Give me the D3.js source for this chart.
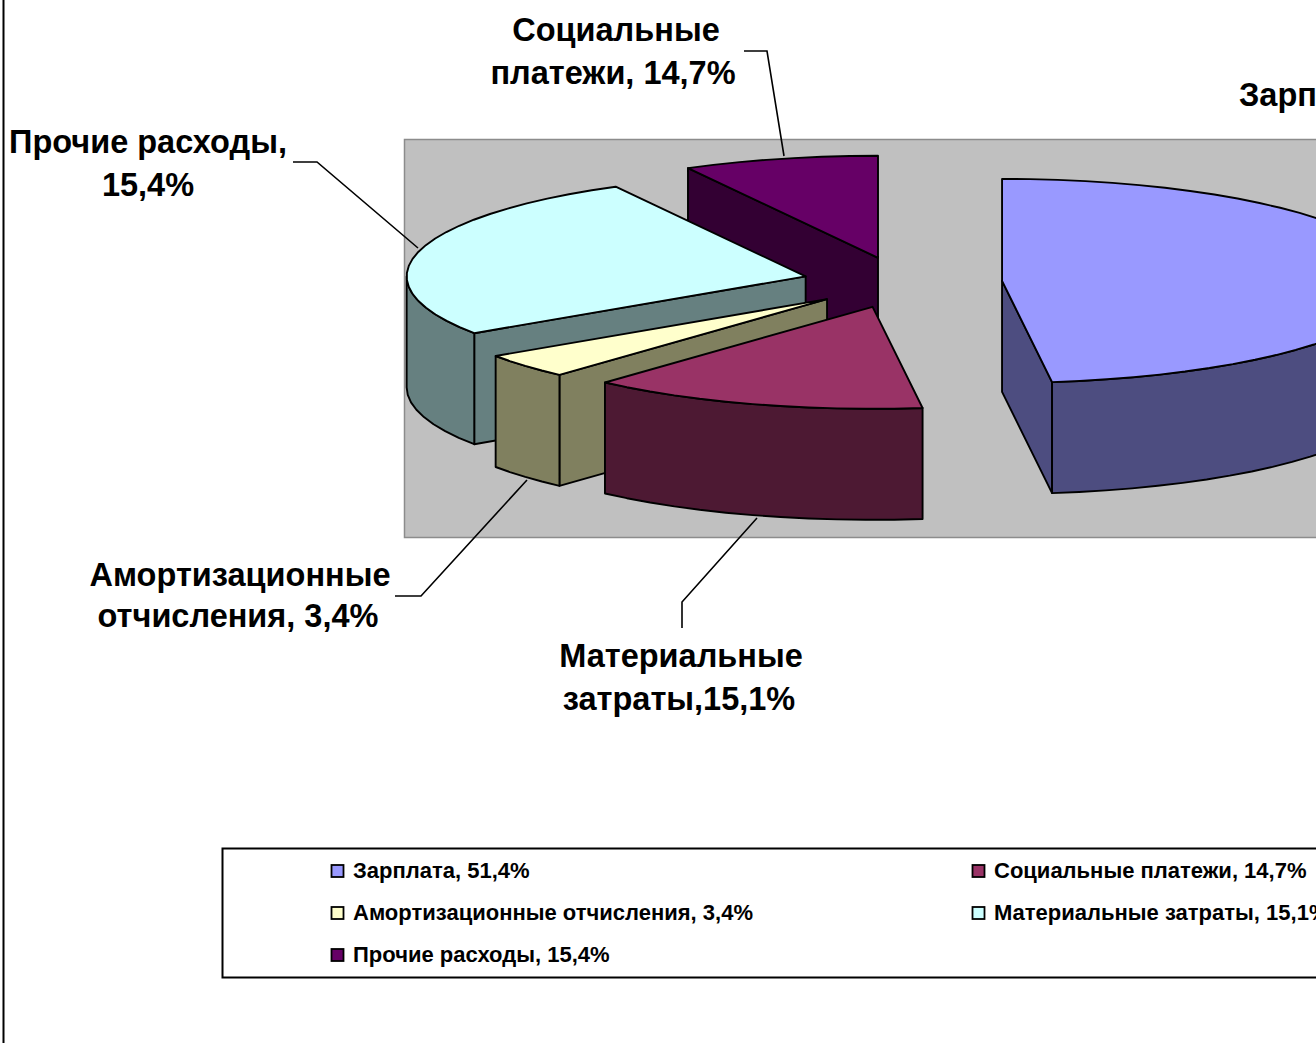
<!DOCTYPE html>
<html><head><meta charset="utf-8">
<script src="https://cdn.jsdelivr.net/npm/d3@7"></script>
<style>html,body{margin:0;padding:0;background:#fff;overflow:hidden}svg{display:block}text{font-family:"Liberation Sans",Arial,sans-serif;font-weight:bold;fill:#000}</style>
</head><body><svg id="c" width="1316" height="1043"></svg>
<script>
// Series in legend order
const categories = ["Зарплата","Социальные платежи","Амортизационные отчисления","Материальные затраты","Прочие расходы"];
const labelledPercent = ["51,4%","14,7%","3,4%","15,1%","15,4%"];
// Slice shares as actually drawn in the picture (they differ from the printed labels)
const drawnShares = [48.0,13.7,3.9,26.5,7.9];
const topColors = ["#9999FF","#993366","#FFFFCC","#CCFFFF","#660066"];
const sideColors = ["#4D4D80","#4D1933","#80805F","#668080","#330033"];

const W=1316,H=1043;
const svg=d3.select("#c");
const view={cx:902.5,cy:282.5,rx:399,ry:102,depth:111,explode:0.25,step:4*Math.PI/180};
const sx=d3.scaleLinear().domain([-1,1]).range([view.cx-view.rx,view.cx+view.rx]);
const sy=d3.scaleLinear().domain([-1,1]).range([view.cy-view.ry,view.cy+view.ry]);

// page frame + plot area
svg.append("line").attr("x1",3.5).attr("x2",3.5).attr("y1",0).attr("y2",H).attr("stroke","#000").attr("stroke-width",2);
svg.append("rect").attr("x",404.5).attr("y",139.5).attr("width",W).attr("height",398).attr("fill","#C0C0C0").attr("stroke","#8C8C8C").attr("stroke-width",1.5);

const arcs=d3.pie().sort(null).value(d=>d)(drawnShares);
const line=d3.line();
function pt(a,r,mid,dz){
  return [sx(view.explode*Math.sin(mid)+r*Math.sin(a)), sy(-view.explode*Math.cos(mid)-r*Math.cos(a))+(dz||0)];
}
function rim(a0,a1,mid,dz){
  const n=Math.max(1,Math.round((a1-a0)/view.step)),p=[];
  for(let i=0;i<=n;i++)p.push(pt(a0+(a1-a0)*i/n,1,mid,dz));
  return p;
}
// painter's order: back to front
const order=[4,3,2,1,0];
const sw=1.9;
order.forEach(i=>{
  const d=arcs[i],a0=d.startAngle,a1=d.endAngle,mid=(a0+a1)/2;
  const g=svg.append("g");
  const A=pt(0,0,mid),Ab=pt(0,0,mid,view.depth);
  const face=(a)=>{
    const P=pt(a,1,mid),Pb=pt(a,1,mid,view.depth);
    g.append("path").attr("d",line([A,P,Pb,Ab])+"Z").attr("fill",sideColors[i]).attr("stroke","#000").attr("stroke-width",sw).attr("stroke-linejoin","round");
  };
  if(-Math.sin(a0)>1e-6)face(a0);
  if(Math.sin(a1)>1e-6)face(a1);
  // outer wall, only the front half of the rim faces the viewer
  const f0=Math.max(a0,Math.PI/2),f1=Math.min(a1,3*Math.PI/2);
  if(f1>f0){
    const top=rim(f0,f1,mid),bot=rim(f0,f1,mid,view.depth).reverse();
    g.append("path").attr("d",line(top.concat(bot))+"Z").attr("fill",sideColors[i]).attr("stroke","#000").attr("stroke-width",sw).attr("stroke-linejoin","round");
  }
  g.append("path").attr("d",line([A].concat(rim(a0,a1,mid)))+"Z").attr("fill",topColors[i]).attr("stroke","#000").attr("stroke-width",sw).attr("stroke-linejoin","round");
});

// data labels and leader lines
const callouts=[
 {lines:[[categories[1].split(" ")[0],616,41],[categories[1].split(" ")[1]+", "+labelledPercent[1],613,84]],leader:[[744,51],[767,51],[784,156]]},
 {lines:[[categories[4]+",",148,153],[labelledPercent[4],148,196]],leader:[[293,162],[317,162],[418,248]]},
 {lines:[[categories[2].split(" ")[0],240,586],[categories[2].split(" ")[1]+", "+labelledPercent[2],238,627]],leader:[[395,596],[421,596],[527,480]]},
 {lines:[[categories[3].split(" ")[0],681,667],[categories[3].split(" ")[1]+","+labelledPercent[3],679,710]],leader:[[682,628],[682,602],[757,518]]}
];
callouts.forEach(c=>{
  c.lines.forEach(l=>svg.append("text").attr("x",l[1]).attr("y",l[2]).attr("text-anchor","middle").attr("font-size",32.5).text(l[0]));
  svg.append("path").attr("d",line(c.leader)).attr("fill","none").attr("stroke","#000").attr("stroke-width",1.6);
});
svg.append("text").attr("x",1239).attr("y",106).attr("font-size",32.5).text(categories[0]+", "+labelledPercent[0]);

// legend
svg.append("rect").attr("x",222.5).attr("y",848.5).attr("width",W).attr("height",129).attr("fill","#fff").attr("stroke","#000").attr("stroke-width",2);
const legX=[331,972],legY=[871,913,955];
categories.forEach((c,i)=>{
  const col=i%2,row=Math.floor(i/2);
  svg.append("rect").attr("x",legX[col]+.5).attr("y",legY[row]-6).attr("width",12).attr("height",12).attr("fill",topColors[i]).attr("stroke","#000").attr("stroke-width",1.8);
  svg.append("text").attr("x",legX[col]+22).attr("y",legY[row]+6.5).attr("font-size",22).text(c+", "+labelledPercent[i]);
});
</script></body></html>
